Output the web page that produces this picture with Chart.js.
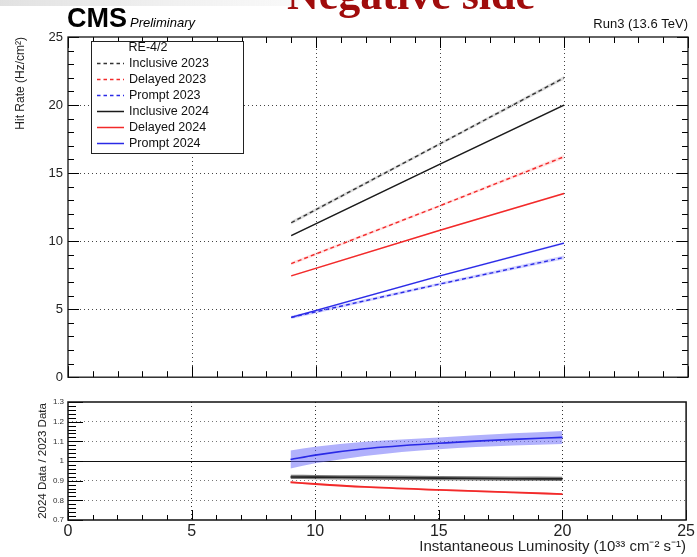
<!DOCTYPE html>
<html>
<head>
<meta charset="utf-8">
<script src="https://cdn.jsdelivr.net/npm/chart.js@4/dist/chart.umd.min.js"></script>
<style>
  html, body { margin: 0; padding: 0; background: #fff; }
  #wrap { position: relative; width: 697px; height: 557px; overflow: hidden; }
  canvas { position: absolute; left: 0; }
  #main { top: 0; }
  #ratio { top: 390px; }
</style>
</head>
<body>
<div id="wrap">
  <canvas id="main" width="697" height="390"></canvas>
  <canvas id="ratio" width="697" height="167"></canvas>
</div>
<script>
// --- Data ---
const lumi = [9, 15, 20];
const inclusive2023 = [11.35, 17.15, 22.0];
const delayed2023 = [8.35, 12.6, 16.2];
const prompt2023 = [4.4, 6.85, 8.8];
const inclusive2024 = [10.4, 15.65, 20.0];
const delayed2024 = [7.45, 10.8, 13.5];
const prompt2024 = [4.4, 7.45, 9.85];
const err2023 = [0.12, 0.1, 0.14];
const err2024 = [0.06, 0.06, 0.08];

const ratioLumi = [9, 10, 12, 15, 18, 20];
const ratioPrompt = [1.008, 1.03, 1.062, 1.09, 1.11, 1.12];
const ratioPromptErr = [0.046, 0.042, 0.036, 0.03, 0.031, 0.033];
const ratioInclusive = [0.919, 0.918, 0.916, 0.913, 0.91, 0.909];
const ratioInclusiveErr = [0.011, 0.011, 0.011, 0.011, 0.011, 0.011];
const ratioDelayed = [0.892, 0.883, 0.868, 0.853, 0.84, 0.832];
const ratioDelayedErr = [0.004, 0.004, 0.004, 0.004, 0.004, 0.004];

const xTicks = [0, 5, 10, 15, 20, 25];
const legendHeader = 'RE-4/2';

const FONT = '"Liberation Sans", Arial, Helvetica, sans-serif';
Chart.defaults.font.family = FONT;
Chart.defaults.color = '#222';
Chart.defaults.animation = false;

const BLACK = '#1a1a1a';
const RED = '#f22a2a';
const BLUE = '#2a2ae6';

// --- helpers ---
function pts(xs, ys) {
  return xs.map((x, i) => ({ x: x, y: ys[i] }));
}

function lineSet(label, xs, ys, color, dashed, smooth, width) {
  return {
    label: label,
    data: pts(xs, ys),
    borderColor: color,
    borderWidth: width || 1.4,
    borderDash: dashed ? [4, 3] : [],
    pointRadius: 0,
    fill: false,
    tension: smooth ? 0.4 : 0,
    cubicInterpolationMode: smooth ? 'monotone' : 'default',
    order: 1
  };
}

function bandSets(xs, mid, err, color, smooth) {
  const lo = xs.map((x, i) => ({ x: x, y: mid[i] - err[i] }));
  const hi = xs.map((x, i) => ({ x: x, y: mid[i] + err[i] }));
  const base = { borderWidth: 0, pointRadius: 0, order: 10,
    tension: smooth ? 0.4 : 0, cubicInterpolationMode: smooth ? 'monotone' : 'default' };
  return [
    Object.assign({ data: lo, fill: false }, base),
    Object.assign({ data: hi, fill: '-1', backgroundColor: color }, base)
  ];
}

function isTick(v, step) {
  return Math.abs(v / step - Math.round(v / step)) < 1e-6;
}

// --- Plugins ---
const frameTicks = {
  id: 'frameTicks',
  afterDatasetsDraw(chart, args, o) {
    const { ctx, chartArea: a, scales } = chart;
    ctx.save();
    ctx.strokeStyle = '#000';
    ctx.lineWidth = 1;
    const drawAxis = (scale, minor, major, minLen, majLen, sides) => {
      for (let v = scale.min; v <= scale.max + 1e-9; v += minor) {
        const len = isTick(v, major) ? majLen : minLen;
        const p = Math.round(scale.getPixelForValue(v)) + 0.5;
        sides.forEach(s => {
          ctx.beginPath();
          if (s === 'left') { ctx.moveTo(a.left, p); ctx.lineTo(a.left + len, p); }
          if (s === 'right') { ctx.moveTo(a.right, p); ctx.lineTo(a.right - len, p); }
          if (s === 'bottom') { ctx.moveTo(p, a.bottom); ctx.lineTo(p, a.bottom - len); }
          if (s === 'top') { ctx.moveTo(p, a.top); ctx.lineTo(p, a.top + len); }
          ctx.stroke();
        });
      }
    };
    drawAxis(scales.x, o.xMinor, o.xMajor, o.xMinLen, o.xMajLen, o.xSides);
    drawAxis(scales.y, o.yMinor, o.yMajor, o.yMinLen, o.yMajLen, o.ySides);
    ctx.lineWidth = o.frameWidth;
    ctx.strokeStyle = '#111';
    ctx.strokeRect(a.left, a.top, a.right - a.left, a.bottom - a.top);
    ctx.restore();
  }
};

const unityLine = {
  id: 'unityLine',
  beforeDatasetsDraw(chart, args, o) {
    if (o.value === undefined) return;
    const { ctx, chartArea: a, scales: { y } } = chart;
    const p = Math.round(y.getPixelForValue(o.value)) + 0.5;
    ctx.save();
    ctx.strokeStyle = '#111';
    ctx.lineWidth = 1;
    ctx.beginPath();
    ctx.moveTo(a.left, p);
    ctx.lineTo(a.right, p);
    ctx.stroke();
    ctx.restore();
  }
};

const legendBox = {
  id: 'legendBox',
  afterDatasetsDraw(chart, args, o) {
    if (!o.show) return;
    const ctx = chart.ctx;
    ctx.save();
    ctx.fillStyle = '#fff';
    ctx.fillRect(91.5, 41.5, 152, 112);
    ctx.strokeStyle = '#222';
    ctx.lineWidth = 1;
    ctx.strokeRect(91.5, 41.5, 152, 112);
    ctx.font = '12.5px ' + FONT;
    ctx.fillStyle = '#111';
    ctx.textBaseline = 'middle';
    ctx.textAlign = 'center';
    ctx.fillText(o.header, 148, 48);
    ctx.textAlign = 'left';
    chart.data.datasets.filter(d => d.label).forEach((d, i) => {
      const yy = 63.5 + 16 * i;
      ctx.strokeStyle = d.borderColor;
      ctx.lineWidth = 1.5;
      ctx.setLineDash(d.borderDash.length ? [3.5, 3] : []);
      ctx.beginPath();
      ctx.moveTo(97, yy);
      ctx.lineTo(124, yy);
      ctx.stroke();
      ctx.setLineDash([]);
      ctx.fillText(d.label, 129, yy + 0.5);
    });
    ctx.restore();
  }
};

const headerText = {
  id: 'headerText',
  afterDraw(chart, args, o) {
    if (!o.show) return;
    const ctx = chart.ctx;
    ctx.save();
    // faint slide band at the very top
    const g = ctx.createLinearGradient(0, 0, 300, 0);
    g.addColorStop(0, 'rgba(225,225,225,1)');
    g.addColorStop(1, 'rgba(235,235,235,0.3)');
    ctx.fillStyle = g;
    ctx.fillRect(0, 0, 300, 6);
    // slide title, cut at top
    ctx.fillStyle = '#a00c0c';
    ctx.font = 'bold 44px "Liberation Serif", "DejaVu Serif", serif';
    ctx.textBaseline = 'alphabetic';
    ctx.textAlign = 'center';
    ctx.fillText('Negative side', 411, 9);
    // CMS label
    ctx.fillStyle = '#000';
    ctx.textAlign = 'left';
    ctx.font = 'bold 27px ' + FONT;
    ctx.fillText('CMS', 67, 27);
    ctx.font = 'italic 13px ' + FONT;
    ctx.fillText('Preliminary', 130, 27);
    ctx.textAlign = 'right';
    ctx.font = '13px ' + FONT;
    ctx.fillStyle = '#111';
    ctx.fillText('Run3 (13.6 TeV)', 688, 28);
    ctx.restore();
  }
};

// --- Main panel ---
const mainDatasets = [
  lineSet('Inclusive 2023', lumi, inclusive2023, '#333', true),
  lineSet('Delayed 2023', lumi, delayed2023, RED, true),
  lineSet('Prompt 2023', lumi, prompt2023, BLUE, true),
  lineSet('Inclusive 2024', lumi, inclusive2024, BLACK, false),
  lineSet('Delayed 2024', lumi, delayed2024, RED, false),
  lineSet('Prompt 2024', lumi, prompt2024, BLUE, false)
].concat(
  bandSets(lumi, inclusive2023, err2023, 'rgba(120,120,120,0.25)'),
  bandSets(lumi, delayed2023, err2023, 'rgba(255,110,110,0.2)'),
  bandSets(lumi, prompt2023, err2023, 'rgba(110,110,255,0.3)'),
  bandSets(lumi, inclusive2024, err2024, 'rgba(120,120,120,0.2)'),
  bandSets(lumi, delayed2024, err2024, 'rgba(255,110,110,0.2)'),
  bandSets(lumi, prompt2024, err2024, 'rgba(110,110,255,0.3)')
);

const innerGrid = (lo, hi, color) => ctx =>
  (ctx.tick && ctx.tick.value > lo + 1e-6 && ctx.tick.value < hi - 1e-6) ? color : 'rgba(0,0,0,0)';

new Chart(document.getElementById('main'), {
  type: 'line',
  data: { datasets: mainDatasets },
  options: {
    responsive: false,
    layout: { padding: { top: 37, right: 9, left: 0, bottom: 0 } },
    plugins: {
      legend: { display: false },
      tooltip: { enabled: false },
      frameTicks: { xMinor: 1, xMajor: 5, xMinLen: 6, xMajLen: 11, xSides: ['bottom', 'top'],
        yMinor: 1, yMajor: 5, yMinLen: 6, yMajLen: 11, ySides: ['left', 'right'], frameWidth: 1.3 },
      legendBox: { show: true, header: legendHeader },
      headerText: { show: true }
    },
    scales: {
      x: {
        type: 'linear', min: 0, max: 25,
        afterBuildTicks: s => { s.ticks = xTicks.map(v => ({ value: v })); },
        ticks: { display: false },
        grid: { color: innerGrid(0, 25, '#444'), drawTicks: false, lineWidth: 1 },
        border: { display: false, dash: [1, 3] },
        afterFit: s => { s.height = 8; }
      },
      y: {
        min: 0, max: 25,
        ticks: { stepSize: 5, font: { size: 13 }, color: '#222', padding: 5 },
        grid: { color: innerGrid(0, 25, '#444'), drawTicks: false, lineWidth: 1 },
        border: { display: false, dash: [1, 3] },
        title: { display: true, text: 'Hit Rate (Hz/cm²)', align: 'end', color: '#222',
          font: { size: 12 }, padding: { top: 13, bottom: 0 } },
        afterFit: s => { s.width = 68; }
      }
    }
  },
  plugins: [frameTicks, legendBox, headerText]
});

// --- Ratio panel ---
const ratioDatasets = [
  lineSet(null, ratioLumi, ratioPrompt, BLUE, false, true, 1.6),
  lineSet(null, ratioLumi, ratioInclusive, '#222', false, true, 1.6),
  lineSet(null, ratioLumi, ratioDelayed, RED, false, true, 1.8)
].concat(
  bandSets(ratioLumi, ratioPrompt, ratioPromptErr, 'rgba(100,100,250,0.5)', true),
  bandSets(ratioLumi, ratioInclusive, ratioInclusiveErr, 'rgba(70,70,70,0.7)', true),
  bandSets(ratioLumi, ratioDelayed, ratioDelayedErr, 'rgba(255,90,90,0.45)', true)
);

new Chart(document.getElementById('ratio'), {
  type: 'line',
  data: { datasets: ratioDatasets },
  options: {
    responsive: false,
    layout: { padding: { top: 12, right: 9, left: 0, bottom: 0 } },
    plugins: {
      legend: { display: false },
      tooltip: { enabled: false },
      frameTicks: { xMinor: 1, xMajor: 5, xMinLen: 5, xMajLen: 10, xSides: ['bottom'],
        yMinor: 0.02, yMajor: 0.1, yMinLen: 8, yMajLen: 15, ySides: ['left'], frameWidth: 1.5 },
      unityLine: { value: 1 }
    },
    scales: {
      x: {
        type: 'linear', min: 0, max: 25,
        afterBuildTicks: s => { s.ticks = xTicks.map(v => ({ value: v })); },
        ticks: { font: { size: 16 }, color: '#222', padding: 2, maxRotation: 0, autoSkip: false },
        grid: { color: innerGrid(0, 25, '#333'), drawTicks: false, lineWidth: 1 },
        border: { display: false, dash: [1, 3] },
        title: { display: true, text: 'Instantaneous Luminosity (10³³ cm⁻² s⁻¹)', align: 'end',
          color: '#222', font: { size: 15 }, padding: { top: 0, bottom: 1 } },
        afterFit: s => { s.height = 37; }
      },
      y: {
        min: 0.7, max: 1.3,
        ticks: { stepSize: 0.1, font: { size: 8 }, color: '#333', padding: 4,
          callback: v => String(+v.toFixed(1)) },
        grid: { color: ctx => (ctx.tick && Math.abs(ctx.tick.value - 1) > 1e-6 &&
            ctx.tick.value > 0.71 && ctx.tick.value < 1.29) ? '#777' : 'rgba(0,0,0,0)',
          drawTicks: false, lineWidth: 1 },
        border: { display: false, dash: [1, 3] },
        title: { display: true, text: '2024 Data / 2023 Data', align: 'center', color: '#222',
          font: { size: 11.5 }, padding: { top: 36, bottom: 0 } },
        afterFit: s => { s.width = 68; }
      }
    }
  },
  plugins: [frameTicks, unityLine]
});
</script>
</body>
</html>
